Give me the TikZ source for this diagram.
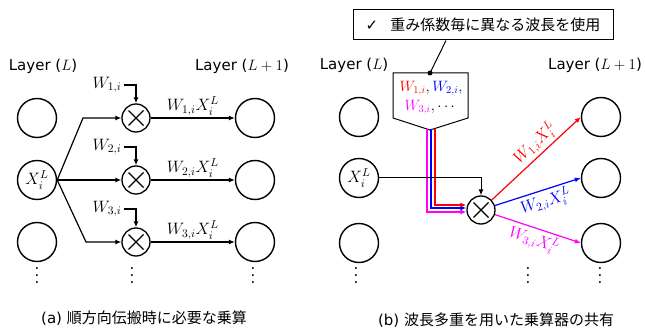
\RequirePackage{fix-cm}
\documentclass[tikz,border=0pt]{standalone}
\usepackage{amsmath}
\usepackage[no-math]{fontspec}
\setmainfont{DejaVu Sans}
\newfontfamily\jpfont{Noto Sans CJK JP}
\usetikzlibrary{arrows.meta, calc}

\definecolor{wred}{RGB}{255,0,0}
\definecolor{wblue}{RGB}{0,0,255}
\definecolor{wmag}{RGB}{255,0,255}

\newcommand{\tallvdots}{\vbox{\baselineskip7pt \lineskiplimit0pt \hbox{.}\hbox{.}\hbox{.}}}

\tikzset{
  neuron/.style={circle, draw, line width=1.4pt, minimum size=39pt, inner sep=0pt},
  mul/.style={circle, draw, line width=1.3pt, minimum size=28pt, inner sep=0pt,
    path picture={\draw[line width=1.3pt]
      ([shift={(-7.5pt,-7.5pt)}]path picture bounding box.center) -- ([shift={(7.5pt,7.5pt)}]path picture bounding box.center)
      ([shift={(-7.5pt,7.5pt)}]path picture bounding box.center) -- ([shift={(7.5pt,-7.5pt)}]path picture bounding box.center);}},
  link/.style={line width=1.2pt, -{Latex[length=6pt,width=5pt]}},
  lab/.style={font=\fontsize{16.5}{19}\selectfont, inner sep=2pt}
}

\begin{document}
\begin{tikzpicture}[x=1pt, y=-1pt, font=\fontsize{15}{18}\selectfont]
\useasboundingbox (0,0) rectangle (645,331);
% (a) left panel
\node (la) at (43,66) {Layer ($L$)};
\node (lb) at (242,66) {Layer ($L+1$)};
\node[neuron] (a1) at (37,118) {};
\node[neuron, lab] (a2) at (37,180) {$X_i^L$};
\node[neuron] (a3) at (37,242) {};
\node[mul] (m1) at (136,118) {};
\node[mul] (m2) at (136,180) {};
\node[mul] (m3) at (136,242) {};
\node[neuron] (b1) at (255,118) {};
\node[neuron] (b2) at (255,180) {};
\node[neuron] (b3) at (255,242) {};
\node[lab] (w1) at (107,85) {$W_{1,i}$};
\node[lab] (w2) at (107,147) {$W_{2,i}$};
\node[lab] (w3) at (107,209) {$W_{3,i}$};
\draw[link] (w1.east) -| (m1);
\draw[link] (w2.east) -| (m2);
\draw[link] (w3.east) -| (m3);
\coordinate (k1) at (83,118);
\coordinate (k3) at (86,242);
\draw[link] (a2.east) -- (k1) -- (m1);
\draw[link] (a2) -- (m2);
\draw[link] (a2.east) -- (k3) -- (m3);
\draw[link] (m1) -- node[lab, above] {$W_{1,i}X_i^L$} (b1);
\draw[link] (m2) -- node[lab, above] {$W_{2,i}X_i^L$} (b2);
\draw[link] (m3) -- node[lab, above] {$W_{3,i}X_i^L$} (b3);
\node (ad) at (37,276) {\tallvdots};
\node (md) at (132,276) {\tallvdots};
\node (bd) at (253,276) {\tallvdots};
\node (capa) at (144,318) {(a) {\jpfont 順方向伝搬時に必要な乗算}};
% (b) right panel
\node (lc) at (354,65) {Layer ($L$)};
\node (ld) at (595,65) {Layer ($L+1$)};
\node[neuron] (c1) at (359,117) {};
\node[neuron, lab] (c2) at (359,178) {$X_i^L$};
\node[neuron] (c3) at (359,243) {};
\node[mul] (mx) at (481,210) {};
\node[neuron] (d1) at (601,117) {};
\node[neuron] (d2) at (601,178) {};
\node[neuron] (d3) at (601,243) {};
\node[draw, line width=1pt, minimum width=260pt, minimum height=30pt] (note) at (483,25)
  {✓\hspace{12pt}{\jpfont 重み係数毎に異なる波長を使用}};
\draw[line width=1pt, fill=white] (393,73) -- (468,73) -- (468,118) -- (430,130) -- (393,118) -- cycle;
\coordinate (pk) at (430,73);
\node[align=center] (wl) at (431,98)
  {$\textcolor{wred}{W_{1,i}},\textcolor{wblue}{W_{2,i}},$\\[1pt] $\textcolor{wmag}{W_{3,i}},\cdots$};
\draw[line width=1pt] ([xshift=-37pt]note.south) -- (pk);
\fill (pk) circle (2.5pt);
\draw[link, wmag] (427,129) |- ($(mx.west)+(0,2)$);
\draw[link, wblue] (431,129) |- ($(mx.west)+(0,-2)$);
\draw[link, wred] (435,129) |- ($(mx.west)+(0,-5)$);
\draw[link, line width=1pt] (c2) -| (mx);
\draw[link, wred] (mx) -- node[lab, pos=0.58, above, sloped] {$W_{1,i}X_i^L$} (d1.west);
\draw[link, wblue] (mx) -- node[lab, pos=0.55, below, sloped] {$W_{2,i}X_i^L$} (d2.west);
\draw[link, wmag] (mx) -- node[lab, pos=0.5, below, sloped] {$W_{3,i}X_i^L$} (d3.west);
\node (cd) at (356,276) {\tallvdots};
\node (xd) at (528,276) {\tallvdots};
\node (dd) at (600,276) {\tallvdots};
\node (capb) at (496,320) {(b) {\jpfont 波長多重を用いた乗算器の共有}};
\end{tikzpicture}
\end{document}
